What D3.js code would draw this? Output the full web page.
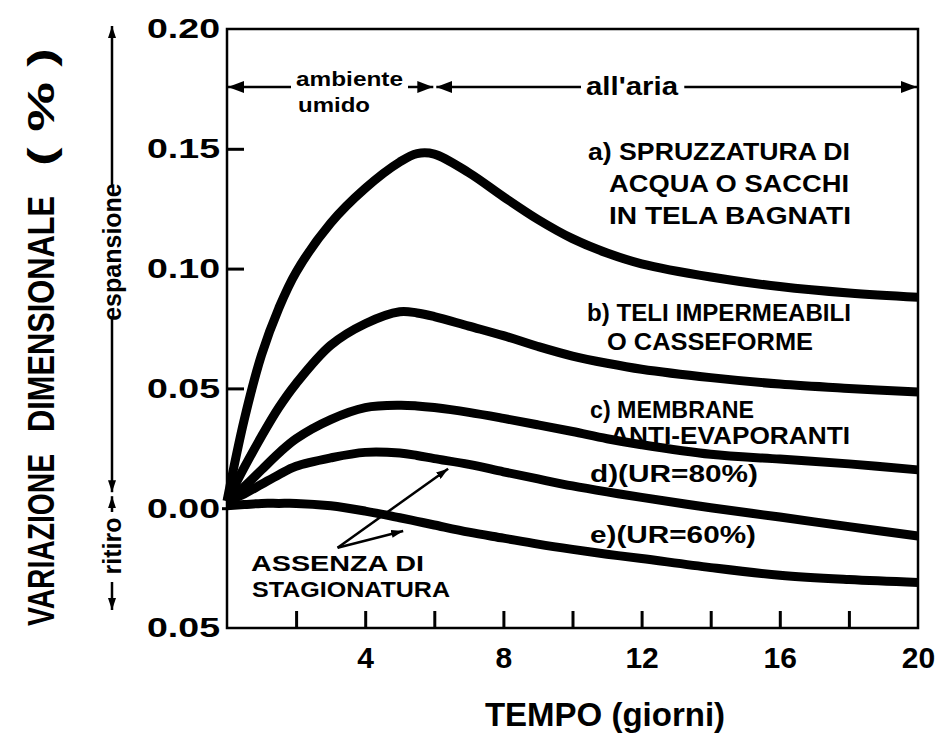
<!DOCTYPE html>
<html>
<head>
<meta charset="utf-8">
<script src="https://cdn.jsdelivr.net/npm/d3@7"></script>
<style>
  body { margin: 0; background: #fff; }
  svg text { font-family: 'Liberation Sans', Arial, sans-serif; font-weight: bold; fill: #000; }
</style>
</head>
<body>
<svg id="chart" width="941" height="734"></svg>
<script>
// --- data ---
const days   = [0, 0.5, 1, 1.5, 2, 3, 4, 5, 5.5, 6, 7, 8, 9, 10, 11, 12, 14, 16, 18, 20];
const curveA = [0.003, 0.037, 0.064, 0.0835, 0.0985, 0.119, 0.1335, 0.1445, 0.148, 0.1478, 0.140, 0.130, 0.1205, 0.1125, 0.1065, 0.102, 0.0965, 0.0925, 0.0898, 0.088];
const curveB = [0.003, 0.017, 0.030, 0.042, 0.052, 0.068, 0.077, 0.082, 0.0815, 0.080, 0.076, 0.072, 0.0675, 0.0635, 0.0605, 0.058, 0.0545, 0.0518, 0.050, 0.0485];
const curveC = [0.003, 0.009, 0.016, 0.023, 0.029, 0.037, 0.042, 0.043, 0.0427, 0.042, 0.040, 0.0375, 0.0348, 0.032, 0.029, 0.0265, 0.0225, 0.0205, 0.0185, 0.016];
const curveD = [0.003, 0.006, 0.010, 0.014, 0.0175, 0.021, 0.0233, 0.023, 0.022, 0.0207, 0.0183, 0.0152, 0.0122, 0.0093, 0.0068, 0.0045, 0.0002, -0.0037, -0.0077, -0.0116];
const curveE = [0.001, 0.0015, 0.002, 0.002, 0.002, 0.001, -0.0012, -0.004, -0.0055, -0.007, -0.010, -0.0125, -0.015, -0.0172, -0.0192, -0.021, -0.0248, -0.028, -0.0298, -0.031];

const xMajorTicks = [4, 8, 12, 16, 20];
const xMinorTicks = [2, 4, 6, 8, 10, 12, 14, 16, 18];
const yTicks      = [-0.05, 0, 0.05, 0.10, 0.15, 0.20];
const yTickLabels = ['0.05', '0.00', '0.05', '0.10', '0.15', '0.20'];
const humidDays   = 6;   // end of "ambiente umido" period

const labelA = ['a) SPRUZZATURA DI', 'ACQUA O SACCHI', 'IN TELA BAGNATI'];
const labelB = ['b) TELI IMPERMEABILI', 'O CASSEFORME'];
const labelC = ['c) MEMBRANE', 'ANTI-EVAPORANTI'];
const labelD = ['d)(UR=80%)'];
const labelE = ['e)(UR=60%)'];
const labelNoCure = ['ASSENZA DI', 'STAGIONATURA'];

// --- layout ---
const W = 941, H = 734;
const margin = {top: 29, right: 23, bottom: 106, left: 227};
const svg = d3.select('#chart');

const x = d3.scaleLinear().domain([0, 20]).range([margin.left, W - margin.right]);
const y = d3.scaleLinear().domain([-0.05, 0.20]).range([H - margin.bottom, margin.top]);

// arrowhead markers
const defs = svg.append('defs');
defs.append('marker')
    .attr('id', 'head')
    .attr('viewBox', '0 0 16 12')
    .attr('refX', 16).attr('refY', 6)
    .attr('markerWidth', 16).attr('markerHeight', 12)
    .attr('markerUnits', 'userSpaceOnUse')
    .attr('orient', 'auto-start-reverse')
  .append('path').attr('d', 'M0,0 L16,6 L0,12 Z').attr('fill', '#000');
defs.append('marker')
    .attr('id', 'small')
    .attr('viewBox', '0 0 12 8')
    .attr('refX', 12).attr('refY', 4)
    .attr('markerWidth', 12).attr('markerHeight', 8)
    .attr('markerUnits', 'userSpaceOnUse')
    .attr('orient', 'auto-start-reverse')
  .append('path').attr('d', 'M0,0 L12,4 L0,8 Z').attr('fill', '#000');

// frame
svg.append('rect')
    .attr('x', x(0)).attr('y', y(0.20))
    .attr('width', x(20) - x(0)).attr('height', y(-0.05) - y(0.20))
    .attr('fill', 'none').attr('stroke', '#000').attr('stroke-width', 2.5);

// inner ticks on the bottom axis
svg.append('g')
    .attr('transform', `translate(0,${y(-0.05)})`)
    .call(d3.axisTop(x).tickValues(xMinorTicks).tickSize(17).tickFormat(''))
    .call(g => g.select('.domain').remove())
    .call(g => g.selectAll('line').attr('stroke-width', 3));

// inner ticks on the left axis
svg.append('g')
    .attr('transform', `translate(${x(0)},0)`)
    .call(d3.axisRight(y).tickValues([0.05, 0.10, 0.15]).tickSize(17).tickFormat(''))
    .call(g => g.select('.domain').remove())
    .call(g => g.selectAll('line').attr('stroke-width', 3));

// y labels
const yAxis = svg.append('g')
    .attr('transform', `translate(${x(0)},0)`)
    .call(d3.axisLeft(y).tickValues(yTicks).tickSize(0).tickPadding(7)
      .tickFormat((d, i) => yTickLabels[i]))
    .call(g => g.select('.domain').remove());
yAxis.selectAll('text')
    .attr('font-size', 28)
    .attr('textLength', 73).attr('lengthAdjust', 'spacingAndGlyphs');

// small outer tick at zero
svg.append('g')
    .attr('transform', `translate(${x(0)},0)`)
    .call(d3.axisLeft(y).tickValues([0]).tickSize(5).tickFormat(''))
    .call(g => g.select('.domain').remove())
    .call(g => g.selectAll('line').attr('stroke-width', 3));

// x labels
const xAxis = svg.append('g')
    .attr('transform', `translate(0,${y(-0.05)})`)
    .call(d3.axisBottom(x).tickValues(xMajorTicks).tickSize(0).tickPadding(19))
    .call(g => g.select('.domain').remove());
xAxis.selectAll('text').attr('font-size', 30);

// axis titles
svg.append('text')
    .attr('x', 605).attr('y', 726)
    .attr('text-anchor', 'middle')
    .attr('font-size', 33)
    .text('TEMPO (giorni)');

const yTitle = [
  {t: 'VARIAZIONE', y0: 626, len: 172},
  {t: 'DIMENSIONALE', y0: 432, len: 236},
  {t: '( % )', y0: 166, len: 118}
];
yTitle.forEach(p => {
  svg.append('text')
      .attr('transform', `translate(54,${p.y0}) rotate(-90)`)
      .attr('font-size', 37)
      .attr('textLength', p.len).attr('lengthAdjust', 'spacingAndGlyphs')
      .text(p.t);
});

// expansion / shrinkage arrows
const axX = 112;
svg.append('text')
    .attr('transform', `translate(${axX + 9},252) rotate(-90)`)
    .attr('text-anchor', 'middle')
    .attr('font-size', 25)
    .text('espansione');
svg.append('line')
    .attr('x1', axX).attr('x2', axX).attr('y1', 186).attr('y2', 26)
    .attr('stroke', '#000').attr('stroke-width', 2.5).attr('marker-end', 'url(#small)');
svg.append('line')
    .attr('x1', axX).attr('x2', axX).attr('y1', 319).attr('y2', y(0) - 16)
    .attr('stroke', '#000').attr('stroke-width', 2.5).attr('marker-end', 'url(#small)');
svg.append('text')
    .attr('transform', `translate(${axX + 9},546) rotate(-90)`)
    .attr('text-anchor', 'middle')
    .attr('font-size', 25)
    .text('ritiro');
svg.append('line')
    .attr('x1', axX).attr('x2', axX).attr('y1', 512).attr('y2', y(0) - 12)
    .attr('stroke', '#000').attr('stroke-width', 2.5).attr('marker-end', 'url(#small)');
svg.append('line')
    .attr('x1', axX).attr('x2', axX).attr('y1', 582).attr('y2', 610)
    .attr('stroke', '#000').attr('stroke-width', 2.5).attr('marker-end', 'url(#small)');

// period annotation at the top
const arrowY = 87;
function splitArrow(x0, x1, textEl) {
  const bb = textEl.node().getBBox();
  svg.append('line')
      .attr('x1', bb.x - 5).attr('x2', x0).attr('y1', arrowY).attr('y2', arrowY)
      .attr('stroke', '#000').attr('stroke-width', 2.5)
      .attr('marker-end', 'url(#head)');
  svg.append('line')
      .attr('x1', bb.x + bb.width + 5).attr('x2', x1).attr('y1', arrowY).attr('y2', arrowY)
      .attr('stroke', '#000').attr('stroke-width', 2.5)
      .attr('marker-end', 'url(#head)');
}
const amb = svg.append('text')
    .attr('x', 296).attr('y', arrowY - 1)
    .attr('font-size', 21)
    .attr('textLength', 107).attr('lengthAdjust', 'spacingAndGlyphs')
    .text('ambiente');
svg.append('text')
    .attr('x', 298).attr('y', arrowY + 25)
    .attr('font-size', 21)
    .attr('textLength', 72).attr('lengthAdjust', 'spacingAndGlyphs')
    .text('umido');
splitArrow(x(0) + 1, x(humidDays) - 1, amb);
const aria = svg.append('text')
    .attr('x', 586).attr('y', arrowY + 8)
    .attr('font-size', 25)
    .attr('textLength', 92).attr('lengthAdjust', 'spacingAndGlyphs')
    .text("all'aria");
splitArrow(x(humidDays) + 2, x(20) - 1, aria);

// curves
const line = d3.line()
    .x((d, i) => x(days[i]))
    .y(d => y(d))
    .curve(d3.curveCatmullRom.alpha(0.5));

svg.append('g')
    .attr('fill', 'none')
    .attr('stroke', '#000')
    .attr('stroke-width', 9)
    .attr('stroke-linejoin', 'round')
  .selectAll('path')
  .data([curveA, curveB, curveC, curveD, curveE])
  .join('path')
    .attr('d', line);

// curve labels
const labelPlaces = [
  {lines: labelA, x: [588, 609, 609], y: [160, 192, 224], len: [262, 240, 242]},
  {lines: labelB, x: [587, 607], y: [321, 350], len: [264, 206]},
  {lines: labelC, x: [590, 610], y: [418, 444], len: [164, 240]},
  {lines: labelD, x: [590], y: [482], len: [168]},
  {lines: labelE, x: [590], y: [543], len: [166]},
  {lines: labelNoCure, x: [251, 252], y: [571, 597], len: [173, 198]}
];
labelPlaces.forEach(p => {
  p.lines.forEach((t, i) => {
    svg.append('text')
        .attr('x', p.x[i]).attr('y', p.y[i])
        .attr('font-size', p.lines === labelNoCure ? 22 : 24)
        .attr('textLength', p.len[i]).attr('lengthAdjust', 'spacingAndGlyphs')
        .text(t);
  });
});

// pointers from "ASSENZA DI STAGIONATURA" to curves d and e
const pointerFrom = [3.2, -0.0165];
const pointerTo = [[6.4, 0.0165], [5.1, -0.0095]];
pointerTo.forEach(p => {
  svg.append('line')
      .attr('x1', x(pointerFrom[0])).attr('y1', y(pointerFrom[1]))
      .attr('x2', x(p[0])).attr('y2', y(p[1]))
      .attr('stroke', '#000').attr('stroke-width', 2.5)
      .attr('marker-end', 'url(#small)');
});
</script>
</body>
</html>
